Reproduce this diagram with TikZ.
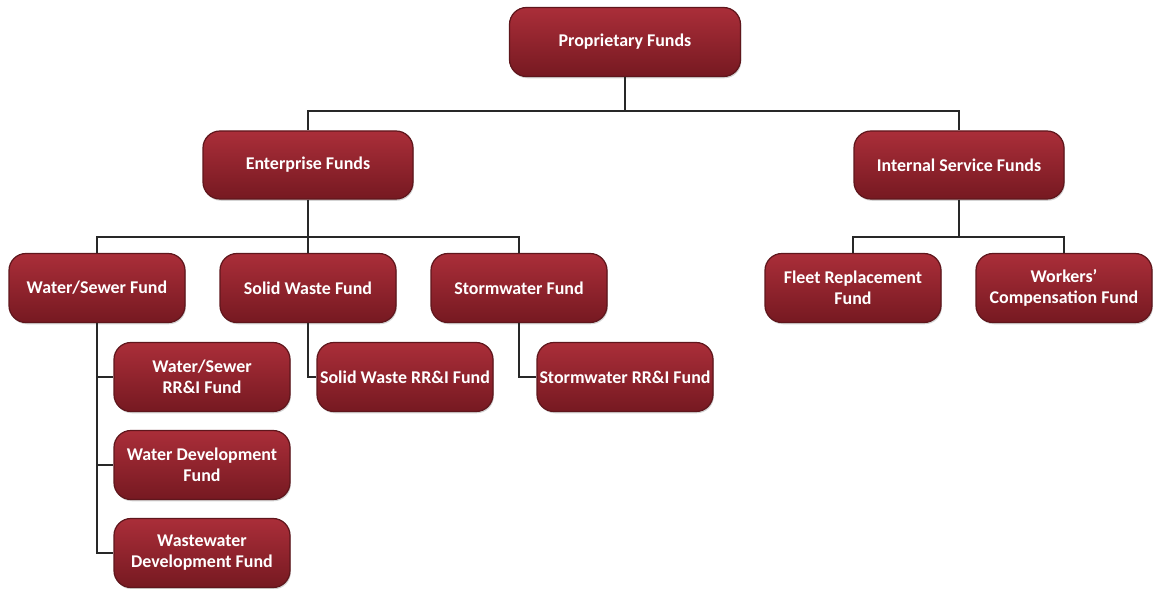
\documentclass[tikz,border=0pt]{standalone}
\usepackage{fontspec}
\setmainfont{Carlito}
\usepackage{tikz}
\usetikzlibrary{shadows}
\newcommand{\boxw}{3.52cm}
\newcommand{\boxh}{1.38cm}
\definecolor{fundtop}{RGB}{170,46,57}
\definecolor{fundbot}{RGB}{118,25,33}
\definecolor{fundline}{RGB}{95,22,28}
\definecolor{wire}{RGB}{40,40,40}

\begin{document}
\begin{tikzpicture}[scale=1]
        \begin{scope}
            %\draw[help lines] (0,0) grid (23,-12);
            \useasboundingbox (0,0) rectangle (23.06,-11.78);
            \tikzset{FundStyle/.style = {rectangle, rounded corners=0.34cm, draw=fundline, line width=0.7pt,
                top color=fundtop, bottom color=fundbot, text=white, font=\bfseries\fontsize{10.2}{12}\selectfont,
                align=center, minimum width=\boxw, minimum height=\boxh, inner sep=1pt,
                drop shadow={shadow xshift=0.5pt, shadow yshift=-1pt, opacity=0.35}}}
            \tikzset{WireStyle/.style = {draw=wire, line width=0.8pt}}

            \node[FundStyle, minimum width=4.62cm] (prop) at (12.5,-0.84) {Proprietary Funds};

            \node[FundStyle, minimum width=4.2cm, minimum height=1.36cm] (ent) at (6.16,-3.3) {Enterprise Funds};
            \node[FundStyle, minimum width=4.2cm, minimum height=1.36cm] (isf) at (19.18,-3.3) {Internal Service Funds};

            \node[FundStyle] (ws) at (1.94,-5.76) {Water/Sewer Fund};
            \node[FundStyle] (sw) at (6.16,-5.76) {Solid Waste Fund};
            \node[FundStyle] (st) at (10.38,-5.76) {Stormwater Fund};
            \node[FundStyle] (fleet) at (17.06,-5.76) {Fleet Replacement\\Fund};
            \node[FundStyle] (work) at (21.28,-5.76) {Workers'\\Compensation Fund};

            \node[FundStyle] (wsr) at (4.04,-7.54) {Water/Sewer\\RR\&I Fund};
            \node[FundStyle] (swr) at (8.10,-7.54) {Solid Waste RR\&I Fund};
            \node[FundStyle] (str) at (12.5,-7.54) {Stormwater RR\&I Fund};
            \node[FundStyle] (wdev) at (4.04,-9.30) {Water Development\\Fund};
            \node[FundStyle] (wwdev) at (4.04,-11.06) {Wastewater\\Development Fund};

            \coordinate (busa) at (12.5,-2.22);
            \coordinate (busb) at (6.16,-4.74);
            \coordinate (busc) at (19.18,-4.74);

            \draw[WireStyle] (prop.south) -- (busa);
            \draw[WireStyle] (busa) -| (ent.north);
            \draw[WireStyle] (busa) -| (isf.north);

            \draw[WireStyle] (ent.south) -- (busb);
            \draw[WireStyle] (busb) -| (ws.north);
            \draw[WireStyle] (busb) -- (sw.north);
            \draw[WireStyle] (busb) -| (st.north);

            \draw[WireStyle] (isf.south) -- (busc);
            \draw[WireStyle] (busc) -| (fleet.north);
            \draw[WireStyle] (busc) -| (work.north);

            \draw[WireStyle] (ws.south) |- (wwdev.west);
            \draw[WireStyle] (ws.south) |- (wsr.west);
            \draw[WireStyle] (ws.south) |- (wdev.west);
            \draw[WireStyle] (sw.south) |- (swr.west);
            \draw[WireStyle] (st.south) |- (str.west);
        \end{scope}
    \end{tikzpicture}
\end{document}
